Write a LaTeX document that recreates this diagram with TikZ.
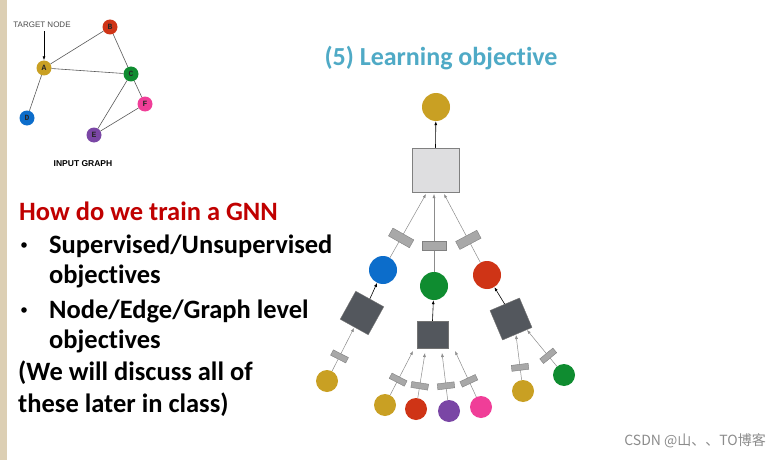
\documentclass[tikz,border=0pt]{standalone}
\usepackage{fontspec}
\setmainfont[RawFeature={-liga;-clig;-dlig}]{Carlito}
\newfontfamily\helv{Liberation Sans}
\newfontfamily\monob{Liberation Mono}
\newfontfamily\cjk{Noto Sans CJK SC}
\usetikzlibrary{arrows.meta}
\definecolor{cgold}{HTML}{C9A023}
\definecolor{cred}{HTML}{CF3416}
\definecolor{cgreen}{HTML}{0F8C30}
\definecolor{cblue}{HTML}{0C6DCB}
\definecolor{cpink}{HTML}{F03E98}
\definecolor{cpurple}{HTML}{7A46A5}
\definecolor{titleblue}{HTML}{4FAAC6}
\definecolor{headred}{HTML}{C00000}
\definecolor{beige}{HTML}{DCCFB4}
\definecolor{darksq}{HTML}{53575D}
\definecolor{lightsq}{HTML}{DEDEE0}
\definecolor{barfill}{HTML}{A8A8A8}
\begin{document}
\begin{tikzpicture}[x=1pt,y=-1pt,
  gnode/.style={circle,inner sep=0pt,minimum size=15pt,text=black!85,font=\monob\bfseries\fontsize{8}{8}\selectfont},
  gedge/.style={draw=black!65,line width=0.6pt},
  bigc/.style={circle,inner sep=0pt,minimum size=28pt},
  smallc/.style={circle,inner sep=0pt,minimum size=22pt},
  dsq/.style={draw=black!55,fill=darksq,inner sep=0pt,minimum width=32pt,minimum height=32pt},
  garrow/.style={draw=black!45,line width=0.5pt,-{Latex[length=4pt,width=3pt]}},
  barrow/.style={draw=black,line width=0.6pt,-{Latex[length=4pt,width=3pt]}},
  bigbar/.style={sloped,draw=black!50,fill=barfill,inner sep=0pt,minimum width=9pt,minimum height=24pt,line width=0.4pt},
  smallbar/.style={sloped,draw=black!50,fill=barfill,inner sep=0pt,minimum width=6pt,minimum height=17pt,line width=0.4pt},
  bodytext/.style={anchor=base west,inner sep=0pt,font=\bfseries\fontsize{26.5}{30}\selectfont}
]
\useasboundingbox (0,0) rectangle (774,460);
\fill[white] (0,0) rectangle (774,460);
\fill[beige] (0,0) rectangle (7,460);

% ---------- input graph ----------
\node[gnode,fill=cred] (B) at (110,27) {B};
\node[gnode,fill=cgold] (A) at (44,68) {A};
\node[gnode,fill=cgreen] (C) at (131,74) {C};
\node[gnode,fill=cpink] (F) at (145,104) {F};
\node[gnode,fill=cblue] (D) at (27,118) {D};
\node[gnode,fill=cpurple] (E) at (94,135) {E};
\draw[gedge] (A) -- (B);
\draw[gedge] (A) -- (C);
\draw[gedge] (B) -- (C);
\draw[gedge] (A) -- (D);
\draw[gedge] (C) -- (E);
\draw[gedge] (C) -- (F);
\draw[gedge] (E) -- (F);
\node[font=\helv\fontsize{8}{9}\selectfont,text=black!70,inner sep=0pt] (tn) at (42,25) {TARGET NODE};
\draw[black,line width=0.7pt,-{Latex[length=4pt,width=3pt]}] (tn.south -| A) ++(0,3) coordinate (tns) (tns) -- (A.north);
\node[font=\helv\bfseries\fontsize{8.5}{9}\selectfont,inner sep=0pt] (ig) at (83,164) {INPUT GRAPH};

% ---------- title ----------
\node[font=\bfseries\fontsize{26}{30}\selectfont,text=titleblue,inner sep=0pt] (title) at (441,58) {(5) Learning objective};

% ---------- left text ----------
\node[bodytext,text=headred] (h1) at (19,220) {How do we train a GNN};
\node[bodytext] (b1) at (49,253) {Supervised/Unsupervised};
\node[bodytext] (b1b) at (49,283) {objectives};
\node[bodytext] (b2) at (49,318) {Node/Edge/Graph level};
\node[bodytext] (b2b) at (49,348) {objectives};
\node[bodytext] (l5) at (18,380) {(We will discuss all of};
\node[bodytext] (l6) at (18,412) {these later in class)};
\fill (24,245) circle (2.8pt);
\fill (24,310) circle (2.8pt);

% ---------- computation graph ----------
\node[bigc,fill=cgold] (top) at (436,107) {};
\node[draw=black!50,fill=lightsq,inner sep=0pt,minimum width=47pt,minimum height=44pt,line width=0.5pt] (tsq) at (435.5,170) {};
\draw[barrow] (tsq.north) -- (top);

\node[bigc,fill=cblue] (n1) at (383,270) {};
\node[bigc,fill=cgreen] (n2) at (434,286) {};
\node[bigc,fill=cred] (n3) at (487,275) {};
\coordinate (t1) at (426,194);
\coordinate (t2) at (434,194);
\coordinate (t3) at (444,194);
\draw[garrow] (n1) -- node[bigbar,pos=0.31] {} (t1);
\draw[garrow] (n2) -- node[bigbar,pos=0.33] {} (t2);
\draw[garrow] (n3) -- node[bigbar,pos=0.33] {} (t3);

% left sub-tree
\node[dsq,rotate=-29] (s1) at (362,313) {};
\draw[barrow] (s1.north) -- (n1);
\node[smallc,fill=cgold] (c11) at (327,381) {};
\coordinate (u11) at (354,328);
\draw[garrow] (c11) -- node[smallbar,pos=0.34] {} (u11);

% middle sub-tree
\node[draw=black!55,fill=darksq,inner sep=0pt,minimum width=31pt,minimum height=27pt] (s2) at (432.5,334.5) {};
\draw[barrow] (s2.north) -- (n2);
\node[smallc,fill=cgold] (c21) at (385,405) {};
\node[smallc,fill=cred] (c22) at (416,409) {};
\node[smallc,fill=cpurple] (c23) at (449,411) {};
\node[smallc,fill=cpink] (c24) at (481,407) {};
\coordinate (u21) at (413,351);
\coordinate (u22) at (425,353);
\coordinate (u23) at (442,353);
\coordinate (u24) at (455,351);
\draw[garrow] (c21) -- node[smallbar,pos=0.35] {} (u21);
\draw[garrow] (c22) -- node[smallbar,pos=0.27] {} (u22);
\draw[garrow] (c23) -- node[smallbar,pos=0.30] {} (u23);
\draw[garrow] (c24) -- node[smallbar,pos=0.35] {} (u24);

% right sub-tree
\node[dsq,rotate=23] (s3) at (511,319) {};
\draw[barrow] (s3.north) -- (n3);
\node[smallc,fill=cgold] (c31) at (523,391) {};
\node[smallc,fill=cgreen] (c32) at (564,375) {};
\coordinate (u31) at (516,335);
\coordinate (u32) at (527,330);
\draw[garrow] (c31) -- node[smallbar,pos=0.28] {} (u31);
\draw[garrow] (c32) -- node[smallbar,pos=0.29] {} (u32);

% watermark
\node[font=\cjk\fontsize{14}{16}\selectfont,text=black!45,anchor=east,inner sep=0pt] (wm) at (766,441) {CSDN @山、、TO博客};
\end{tikzpicture}
\end{document}
